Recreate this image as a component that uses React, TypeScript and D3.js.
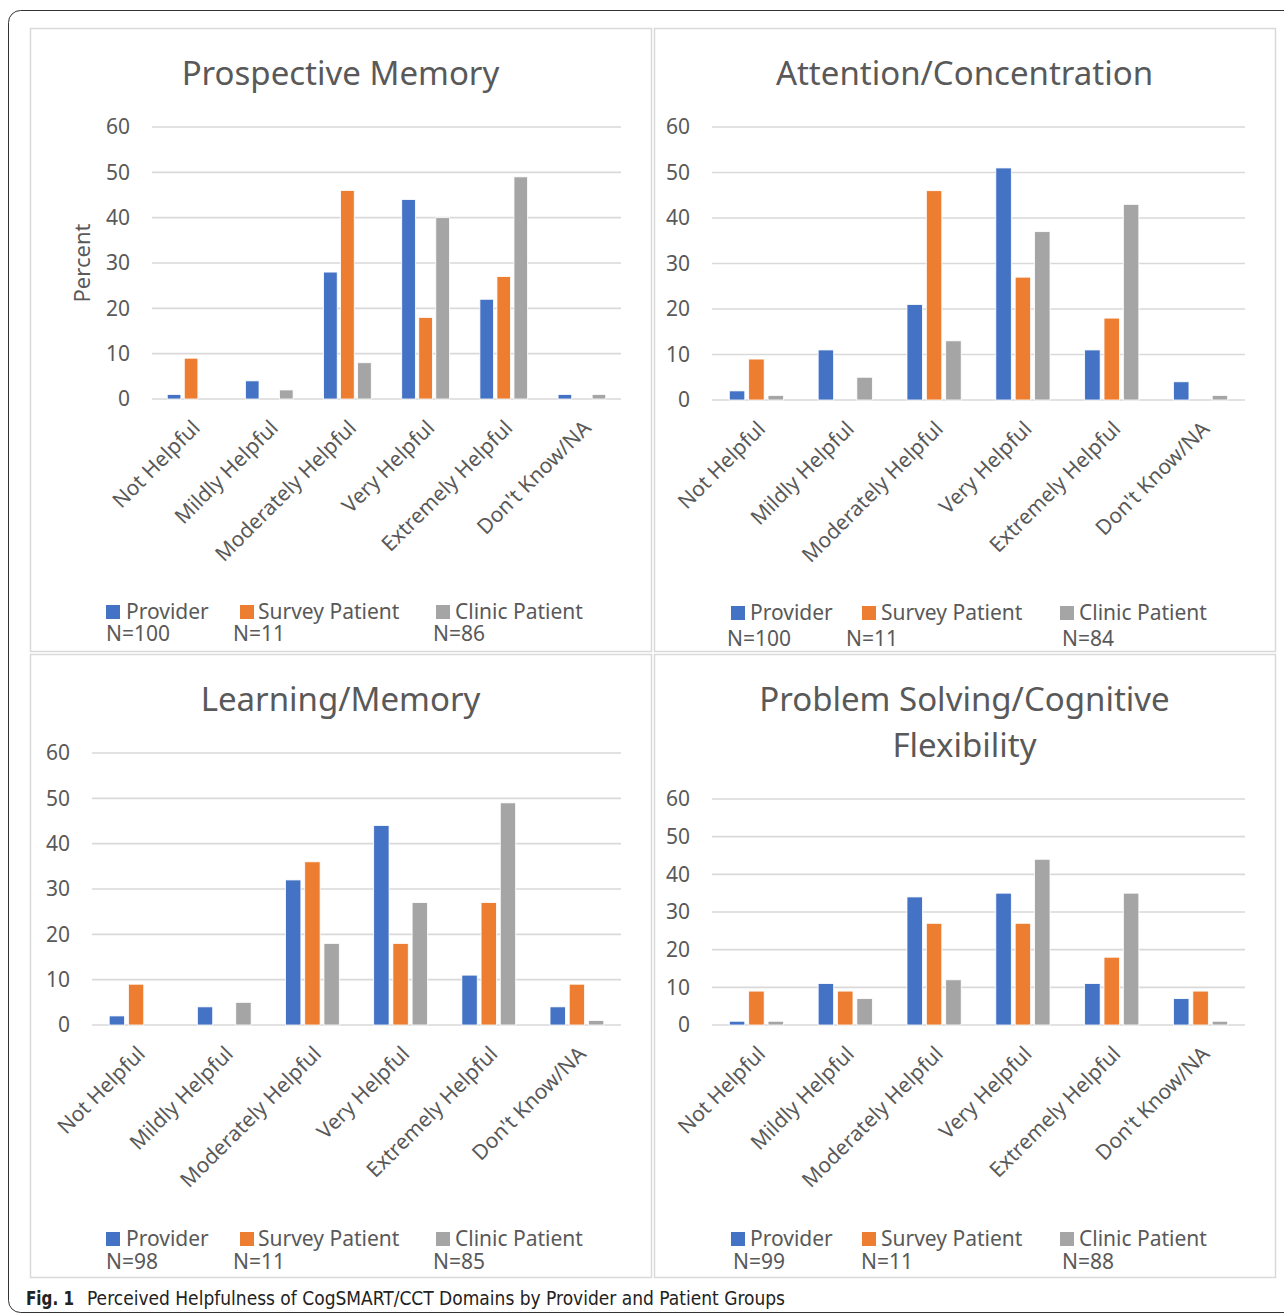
import React from "react";
import * as d3 from "d3";

const categories = ["Not Helpful", "Mildly Helpful", "Moderately Helpful", "Very Helpful", "Extremely Helpful", "Don't Know/NA"];
const seriesNames = ["Provider", "Survey Patient", "Clinic Patient"];
const seriesColors = ["#4472C4", "#ED7D31", "#A5A5A5"];
const yTicks = [0, 10, 20, 30, 40, 50, 60];

const pmProvider = [1, 4, 28, 44, 22, 1];
const pmSurvey = [9, 0, 46, 18, 27, 0];
const pmClinic = [0, 2, 8, 40, 49, 1];
const pmN = ["N=100", "N=11", "N=86"];

const acProvider = [2, 11, 21, 51, 11, 4];
const acSurvey = [9, 0, 46, 27, 18, 0];
const acClinic = [1, 5, 13, 37, 43, 1];
const acN = ["N=100", "N=11", "N=84"];

const lmProvider = [2, 4, 32, 44, 11, 4];
const lmSurvey = [9, 0, 36, 18, 27, 9];
const lmClinic = [0, 5, 18, 27, 49, 1];
const lmN = ["N=98", "N=11", "N=85"];

const psProvider = [1, 11, 34, 35, 11, 7];
const psSurvey = [9, 9, 27, 27, 18, 9];
const psClinic = [1, 7, 12, 44, 35, 1];
const psN = ["N=99", "N=11", "N=88"];

const FONT = "'Noto Sans', 'Open Sans', sans-serif";
const TXT = "#595959";

type PanelCfg = {
  title: string[];
  series: number[][];
  n: string[];
  box: [number, number, number, number];
  titleY: number[];
  gx: [number, number];
  gy: [number, number];
  showYTitle: boolean;
  legSwatchX: number[];
  legTextX: number[];
  legNX: number[];
  legY: number;
  legNY: number;
};

const panels: PanelCfg[] = [
  {
    title: ["Prospective Memory"], series: [pmProvider, pmSurvey, pmClinic], n: pmN,
    box: [30, 28, 621, 623], titleY: [73], gx: [152, 621], gy: [399, 127], showYTitle: true,
    legSwatchX: [106, 240, 436], legTextX: [126, 258, 455], legNX: [106, 233, 433], legY: 612, legNY: 633,
  },
  {
    title: ["Attention/Concentration"], series: [acProvider, acSurvey, acClinic], n: acN,
    box: [654, 28, 621, 623], titleY: [73], gx: [712, 1245], gy: [400, 127], showYTitle: false,
    legSwatchX: [731, 862, 1060], legTextX: [750, 881, 1079], legNX: [727, 846, 1062], legY: 613, legNY: 638,
  },
  {
    title: ["Learning/Memory"], series: [lmProvider, lmSurvey, lmClinic], n: lmN,
    box: [30, 654, 621, 623], titleY: [699], gx: [92, 621], gy: [1025, 753], showYTitle: false,
    legSwatchX: [106, 240, 436], legTextX: [126, 258, 455], legNX: [106, 233, 433], legY: 1239, legNY: 1261,
  },
  {
    title: ["Problem Solving/Cognitive", "Flexibility"], series: [psProvider, psSurvey, psClinic], n: psN,
    box: [654, 654, 621, 623], titleY: [699, 745], gx: [712, 1245], gy: [1025, 799], showYTitle: false,
    legSwatchX: [731, 862, 1060], legTextX: [750, 881, 1079], legNX: [733, 861, 1062], legY: 1239, legNY: 1261,
  },
];

function Panel({ cfg }: { cfg: PanelCfg }) {
  const [bx, by, bw, bh] = cfg.box;
  const x0 = d3.scaleBand<string>().domain(categories).range(cfg.gx).paddingInner(0.39).paddingOuter(0.195);
  const x1 = d3.scaleBand<string>().domain(seriesNames).range([0, x0.bandwidth()]).paddingInner(0.2);
  const y = d3.scaleLinear().domain([0, 60]).range(cfg.gy);
  const cx = bx + bw / 2;
  return (
    <g>
      <rect x={bx + 0.5} y={by + 0.5} width={bw} height={bh} fill="#fff" stroke="#d9d9d9" strokeWidth={1.5} />
      {cfg.title.map((t, i) => (
        <text key={i} x={cx} y={cfg.titleY[i]} dy="0.35em" textAnchor="middle" fontSize={33} fill={TXT} fontFamily={FONT}>{t}</text>
      ))}
      {yTicks.map((t) => (
        <g key={t}>
          <line x1={cfg.gx[0]} x2={cfg.gx[1]} y1={y(t)} y2={y(t)} stroke="#d9d9d9" strokeWidth={1.6} />
          <text x={cfg.gx[0] - 22} y={y(t)} dy="0.35em" textAnchor="end" fontSize={21} fill={TXT} fontFamily={FONT}>{t}</text>
        </g>
      ))}
      {cfg.showYTitle && (
        <text transform={`translate(${cfg.gx[0] - 70},${(cfg.gy[0] + cfg.gy[1]) / 2}) rotate(-90)`} textAnchor="middle" dy="0.35em" fontSize={22} fill={TXT} fontFamily={FONT}>Percent</text>
      )}
      {categories.map((c, ci) => (
        <g key={c}>
          {seriesNames.map((s, si) => {
            const v = cfg.series[si][ci];
            if (!v) return null;
            return (
              <rect key={s} x={(x0(c) ?? 0) + (x1(s) ?? 0)} y={y(v)} width={x1.bandwidth()} height={y(0) - y(v)}
                fill={seriesColors[si]} stroke="#fff" strokeWidth={0.8} />
            );
          })}
          <text transform={`translate(${(x0(c) ?? 0) + x0.bandwidth() / 2 + 5},${y(0) + 25}) rotate(-45)`} textAnchor="end" dy="0.35em"
            fontSize={21} fill={TXT} fontFamily={FONT}>{c}</text>
        </g>
      ))}
      {seriesNames.map((s, si) => (
        <g key={s}>
          <rect x={cfg.legSwatchX[si]} y={cfg.legY - 7} width={14} height={14} fill={seriesColors[si]} />
          <text x={cfg.legTextX[si]} y={cfg.legY} dy="0.33em" fontSize={21} fill={TXT} fontFamily={FONT}>{s}</text>
          <text x={cfg.legNX[si]} y={cfg.legNY} dy="0.38em" fontSize={21} fill={TXT} fontFamily={FONT}>{cfg.n[si]}</text>
        </g>
      ))}
    </g>
  );
}

export default function App() {
  return (
    <svg width={1284} height={1316} style={{ position: "absolute", left: 0, top: 0, background: "#fff" }}>
      <rect x={0} y={0} width={1284} height={1316} fill="#fff" />
      <rect x={8.5} y={10.5} width={1300} height={1302} rx={12} fill="none" stroke="#333" strokeWidth={1} />
      {panels.map((p, i) => <Panel key={i} cfg={p} />)}
      <text x={26} y={1305} fontSize={19} fontFamily="'Liberation Sans Narrow', 'DejaVu Sans Condensed', sans-serif" fill="#222">
        <tspan fontWeight="bold" textLength={48} lengthAdjust="spacingAndGlyphs">Fig. 1</tspan>
        <tspan x={87} textLength={698} lengthAdjust="spacingAndGlyphs">Perceived Helpfulness of CogSMART/CCT Domains by Provider and Patient Groups</tspan>
      </text>
    </svg>
  );
}
